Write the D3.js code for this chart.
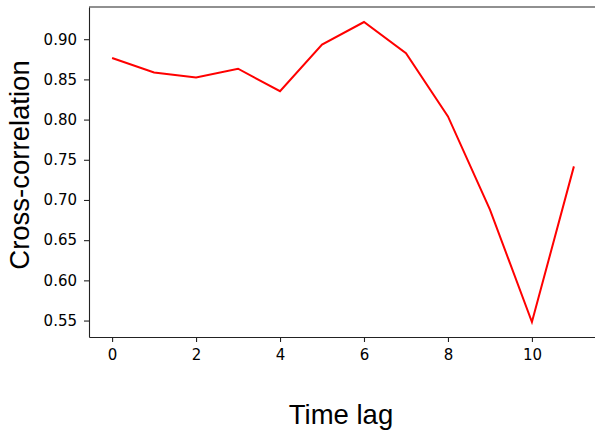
<!DOCTYPE html>
<html>
<head>
<meta charset="utf-8">
<script src="https://cdn.jsdelivr.net/npm/d3@7"></script>
<style>
  body { margin: 0; background: #fff; }
  #chart { width: 595px; height: 431px; }
</style>
</head>
<body>
<div id="chart"></div>
<script>
// time lags and cross-correlation values
const lags = [0, 1, 2, 3, 4, 5, 6, 7, 8, 9, 10, 11];
const corr = [0.8766, 0.8587, 0.8524, 0.8633, 0.8353, 0.8933, 0.9214, 0.8826, 0.8040, 0.6880, 0.5482, 0.7418];
const xTicks = [0, 2, 4, 6, 8, 10];
const yTicks = [0.55, 0.60, 0.65, 0.70, 0.75, 0.80, 0.85, 0.90];

const width = 595, height = 431;
const margin = { top: 7, right: -2, bottom: 94, left: 89 };

const svg = d3.select("#chart")
    .append("svg")
    .attr("width", width)
    .attr("height", height);

// matplotlib style 5% padding on both axes
const xPad = (d3.max(lags) - d3.min(lags)) * 0.05;
const yPad = (d3.max(corr) - d3.min(corr)) * 0.05;

const x = d3.scaleLinear()
    .domain([d3.min(lags) - xPad, d3.max(lags) + xPad])
    .range([margin.left, width - margin.right]);

const y = d3.scaleLinear()
    .domain([d3.min(corr) - yPad, d3.max(corr) + yPad])
    .range([height - margin.bottom, margin.top]);

const tickFont = "'DejaVu Sans', sans-serif";
const labelFont = "'Liberation Sans', Arial, sans-serif";

// x axis
const xAxis = svg.append("g")
    .attr("transform", `translate(0, ${height - margin.bottom})`)
    .call(d3.axisBottom(x).tickValues(xTicks).tickSize(5).tickPadding(7).tickSizeOuter(0));

// y axis
const yAxis = svg.append("g")
    .attr("transform", `translate(${margin.left}, 0)`)
    .call(d3.axisLeft(y).tickValues(yTicks).tickFormat(d3.format(".2f")).tickSize(5).tickPadding(7).tickSizeOuter(0));

[xAxis, yAxis].forEach(g => {
    g.select(".domain").attr("stroke", "#222").attr("stroke-width", 1.1);
    g.selectAll(".tick line").attr("stroke", "#222").attr("stroke-width", 1.1);
    g.selectAll(".tick text")
        .attr("fill", "#000")
        .style("font-family", tickFont)
        .style("font-size", "15px");
});

// top spine
svg.append("line")
    .attr("x1", margin.left)
    .attr("x2", width - margin.right)
    .attr("y1", margin.top)
    .attr("y2", margin.top)
    .attr("stroke", "#222")
    .attr("stroke-width", 1.1);

// the line
const line = d3.line()
    .x((d, i) => x(lags[i]))
    .y(d => y(d));

svg.append("path")
    .datum(corr)
    .attr("d", line)
    .attr("fill", "none")
    .attr("stroke", "#ff0000")
    .attr("stroke-width", 2)
    .attr("stroke-linejoin", "miter");

// axis labels
svg.append("text")
    .attr("x", 341)
    .attr("y", 424)
    .attr("text-anchor", "middle")
    .style("font-family", labelFont)
    .style("font-size", "27.5px")
    .text("Time lag");

svg.append("text")
    .attr("transform", "translate(29, 165) rotate(-90)")
    .attr("text-anchor", "middle")
    .style("font-family", labelFont)
    .style("font-size", "27.5px")
    .text("Cross-correlation");
</script>
</body>
</html>
